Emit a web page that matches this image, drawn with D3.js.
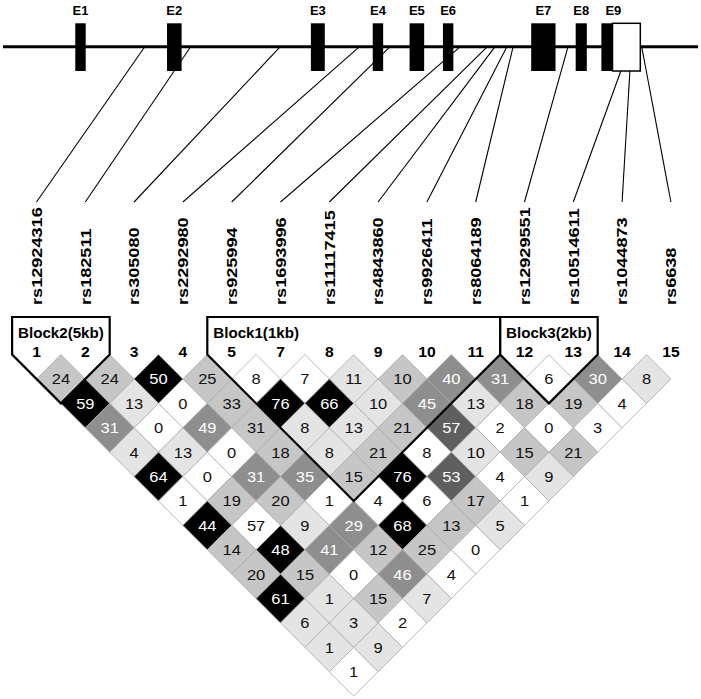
<!DOCTYPE html>
<html><head><meta charset="utf-8">
<script src="https://cdn.jsdelivr.net/npm/d3@7"></script>
<style>html,body{margin:0;padding:0;background:#fff;}svg{display:block;}</style>
</head><body>
<script>
// ---------- DATA ----------
const markerNames = ["rs12924316","rs182511","rs305080","rs2292980","rs925994","rs1693996","rs11117415","rs4843860","rs9926411","rs8064189","rs12929551","rs10514611","rs1044873","rs6638"];
const markerNumbers = ["1","2","3","4","5","7","8","9","10","11","12","13","14","15"];
// relative position along the gene (0-100 units)
const snpPositions = [20.4, 27.0, 39.9, 51.3, 55.7, 65.8, 69.7, 70.8, 72.5, 73.4, 81.3, 88.9, 90.2, 91.9];
const exonNames  = ["E1","E2","E3","E4","E5","E6","E7","E8","E9"];
const exonStarts = [10.4, 23.6, 44.3, 53.2, 58.5, 63.3, 76.0, 82.4, 86.1];
const exonEnds   = [11.9, 25.7, 46.3, 54.7, 60.6, 64.8, 79.5, 84.0, 87.7];
const utrStarts  = [87.7];
const utrEnds    = [91.7];
// LD values by marker separation (row 1 = adjacent pairs)
const ldValues = [
  [24,24,50,25,8,7,11,10,40,31,6,30,8],
  [59,13,0,33,76,66,10,45,13,18,19,4],
  [31,0,49,31,8,13,21,57,2,0,3],
  [4,13,0,18,8,21,8,10,15,21],
  [64,0,31,35,15,76,53,4,9],
  [1,19,20,1,4,6,17,1],
  [44,57,9,29,68,13,5],
  [14,48,41,12,25,0],
  [20,15,0,46,4],
  [61,1,15,7],
  [6,3,2],
  [1,9],
  [1]
];
// shading level of each cell (0 white .. 5 black)
const ldShades = [
  [2,2,5,2,0,0,1,2,3,3,0,3,1],
  [5,1,0,2,5,5,1,3,1,2,2,0],
  [3,0,3,2,1,1,2,4,0,0,0],
  [1,1,0,2,1,2,0,1,2,2],
  [5,0,3,3,2,5,4,0,1],
  [0,2,2,0,0,0,2,0],
  [5,0,1,3,5,2,1],
  [2,5,3,2,2,0],
  [2,2,0,3,0],
  [5,1,2,1],
  [1,1,0],
  [1,1],
  [0]
];
const blockNames  = ["Block2(5kb)","Block1(1kb)","Block3(2kb)"];
const blockStarts = [0, 4, 10];
const blockEnds   = [1, 9, 11];

// ---------- DRAW ----------
const W = 701, H = 699;
const FONT = "Arial, 'Liberation Sans', Helvetica, sans-serif";
const svg = d3.select("body").append("svg").attr("width", W).attr("height", H)
  .style("font-family", FONT);

const shadeColors = ["#ffffff","#e4e4e4","#c6c6c6","#8e8e8e","#5f5f5f","#000000"];

// gene structure
const gx = d3.scaleLinear().domain([0, 100]).range([3, 698]);
const lineY = 46.7, exTop = 23.3, exBot = 71;
const mx = d3.scaleLinear().domain([0, markerNames.length - 1]).range([36.5, 670.9]);
const w = (mx(1) - mx(0)) / 2;
const nameBottom = 305, connBottom = 202;

// connectors
const gConn = svg.append("g");
snpPositions.forEach((p, i) => {
  let inExon = false;
  utrStarts.forEach((s, k) => { if (p >= s && p <= utrEnds[k]) inExon = true; });
  exonStarts.forEach((s, k) => { if (p >= s && p <= exonEnds[k]) inExon = true; });
  gConn.append("line")
    .attr("x1", gx(p)).attr("y1", inExon ? exBot : lineY)
    .attr("x2", mx(i)).attr("y2", connBottom)
    .attr("stroke", "#000").attr("stroke-width", 1.1);
});

svg.append("line").attr("x1", gx(0)).attr("x2", gx(100)).attr("y1", lineY).attr("y2", lineY)
  .attr("stroke", "#000").attr("stroke-width", 3);

exonStarts.forEach((s, k) => {
  svg.append("rect").attr("x", gx(s)).attr("y", exTop)
    .attr("width", gx(exonEnds[k]) - gx(s)).attr("height", exBot - exTop).attr("fill", "#000");
});
utrStarts.forEach((s, k) => {
  svg.append("rect").attr("x", gx(s)).attr("y", exTop)
    .attr("width", gx(utrEnds[k]) - gx(s)).attr("height", exBot - exTop)
    .attr("fill", "#fff").attr("stroke", "#000").attr("stroke-width", 1.5);
});
exonNames.forEach((n, k) => {
  const isLast = k === exonNames.length - 1;
  const cx = isLast ? gx(exonStarts[k]) + 12 : (gx(exonStarts[k]) + gx(exonEnds[k])) / 2;
  svg.append("text").attr("x", cx).attr("y", 15)
    .attr("text-anchor", "middle").attr("font-weight", "bold").attr("font-size", 13).text(n);
});

// marker names (rotated)
markerNames.forEach((n, i) => {
  svg.append("text")
    .attr("transform", `translate(${mx(i)},${nameBottom}) rotate(-90) scale(1.25,1)`)
    .attr("dy", "0.36em").attr("text-anchor", "start")
    .attr("font-weight", "bold").attr("font-size", 14.5).text(n);
});

// LD cells
const yTop = 354.6;
const gCells = svg.append("g");
ldValues.forEach((row, r) => {
  const d = r + 1;
  row.forEach((v, i) => {
    const j = i + d;
    const cx = (mx(i) + mx(j)) / 2;
    const cy = yTop + d * w;
    const shade = ldShades[r][i];
    gCells.append("path")
      .attr("d", `M${cx},${cy - w}L${cx + w},${cy}L${cx},${cy + w}L${cx - w},${cy}Z`)
      .attr("fill", shadeColors[shade]).attr("stroke", "#a9a9a9").attr("stroke-width", 0.8);
    gCells.append("text")
      .attr("transform", `translate(${cx},${cy}) scale(1.1,1)`)
      .attr("dy", "0.36em").attr("text-anchor", "middle")
      .attr("font-size", 15).attr("fill", shade >= 3 ? "#fff" : "#111").text(v);
  });
});

// marker numbers
markerNumbers.forEach((n, i) => {
  svg.append("text")
    .attr("transform", `translate(${mx(i)},357) scale(1.12,1)`)
    .attr("text-anchor", "middle").attr("font-weight", "bold").attr("font-size", 14).text(n);
});

// blocks
const boxTop = 317;
blockNames.forEach((name, b) => {
  const s = blockStarts[b], e = blockEnds[b];
  const xl = mx(s) - w, xr = mx(e) + w;
  const ax = (mx(s) + mx(e)) / 2, ay = yTop + (e - s + 1) * w;
  svg.append("path")
    .attr("d", `M${xl},${boxTop}L${xl},${yTop}L${ax},${ay}L${xr},${yTop}L${xr},${boxTop}Z`)
    .attr("fill", "none").attr("stroke", "#000").attr("stroke-width", 2.2).attr("stroke-linejoin", "miter");
  svg.append("text")
    .attr("transform", `translate(${xl + 6},338) scale(1.08,1)`)
    .attr("font-weight", "bold").attr("font-size", 14).text(name);
});
</script>
</body></html>
